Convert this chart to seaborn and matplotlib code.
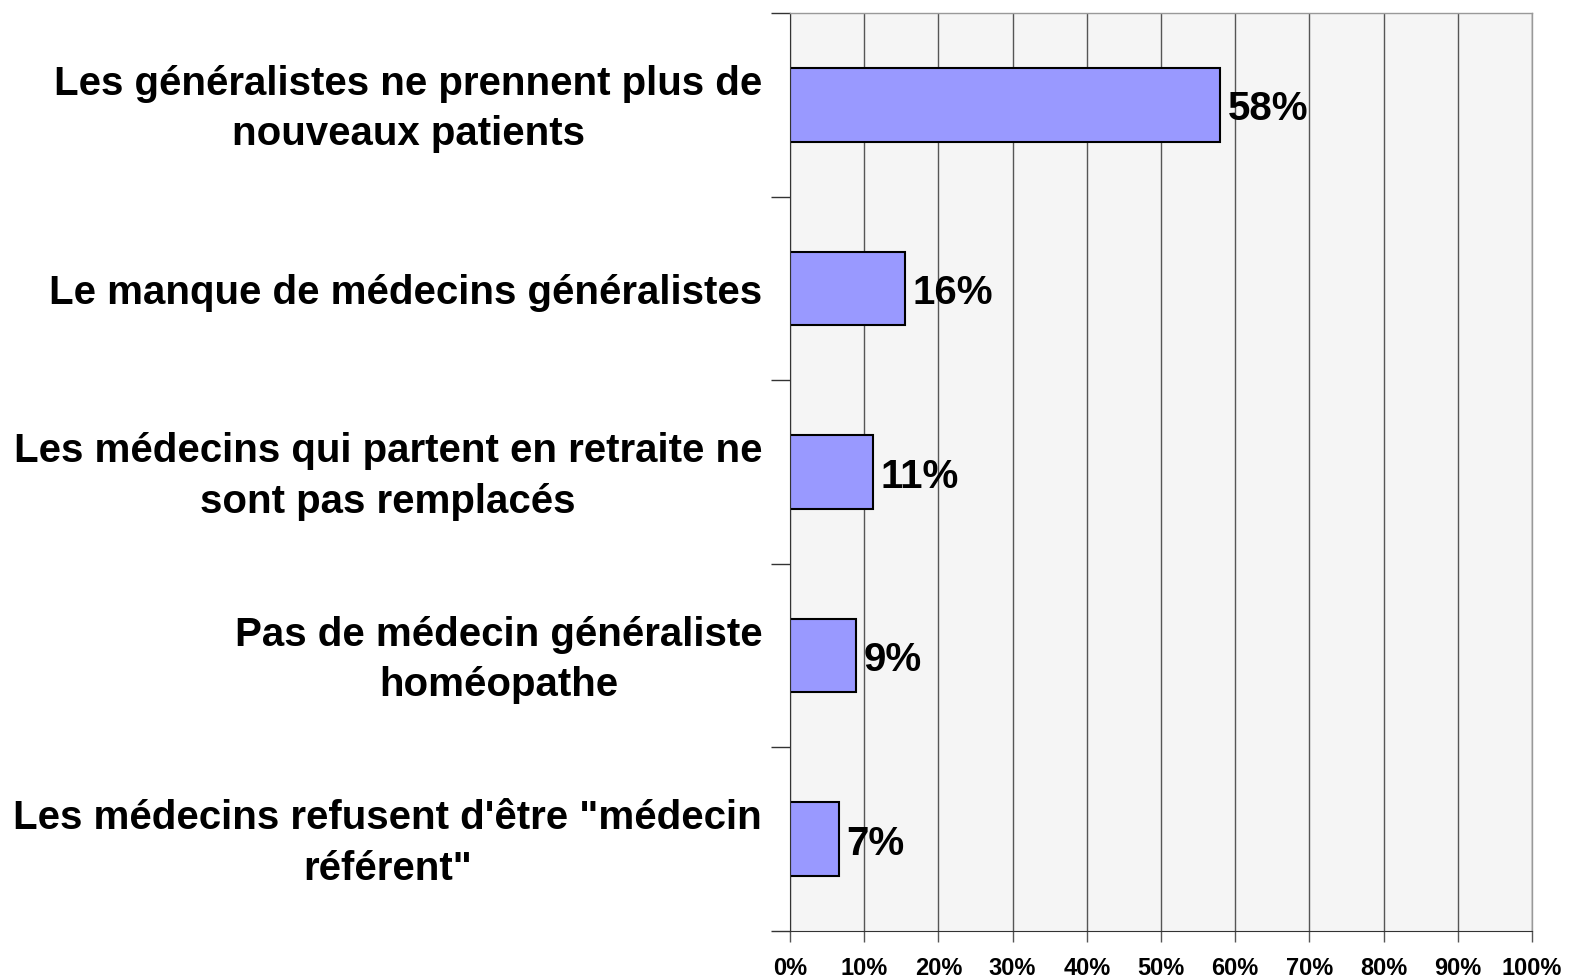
import pandas as pd
import matplotlib.pyplot as plt
import matplotlib.transforms as mtransforms
import seaborn as sns
from matplotlib.ticker import FixedLocator

categories = ['Les généralistes ne prennent plus de\nnouveaux patients',
              'Le manque de médecins généralistes',
              'Les médecins qui partent en retraite ne\nsont pas remplacés',
              'Pas de médecin généraliste\nhoméopathe',
              'Les médecins refusent d\'être "médecin\nréférent"']
values = [58.0, 15.5, 11.2, 8.9, 6.6]
labels = ['58%', '16%', '11%', '9%', '7%']
xticks = list(range(0, 101, 10))

df = pd.DataFrame({'cat': categories, 'val': values})

sns.set_style('white')
plt.rcParams['font.family'] = ['Liberation Sans', 'DejaVu Sans']
plt.rcParams['text.color'] = 'black'
plt.rcParams['xtick.color'] = 'black'
plt.rcParams['ytick.color'] = 'black'

fig, ax = plt.subplots(figsize=(15.84, 9.79), dpi=100)
fig.subplots_adjust(left=790/1584, right=1532/1584, top=1-14/979, bottom=1-932/979)

ax.set_facecolor('#f5f5f5')
sns.barplot(data=df, x='val', y='cat', orient='h', color='#9999ff',
            edgecolor='black', linewidth=1.5, width=0.4, saturation=1, ax=ax)

for i, v in enumerate(values):
    ax.text(v + 1.0, i + 0.02, labels[i], va='center', ha='left', fontsize=29, fontweight='bold')

ax.set_xlim(0, 100)
ax.set_ylim(4.5, -0.5)
ax.set_xticks(xticks)
ax.set_xticklabels([f'{t}%' for t in xticks], fontsize=17, fontweight='bold')
ax.xaxis.grid(True, color='#555555', linewidth=1)
ax.set_axisbelow(True)
ax.tick_params(axis='x', length=8, width=1, color='#555555', pad=10, bottom=True)

ax.tick_params(axis='y', which='major', length=0, pad=20, labelsize=29)
# les libellés sur deux lignes tombent un peu bas, on les remonte
shift = mtransforms.ScaledTranslation(0, 7/100, fig.dpi_scale_trans)
for lbl in ax.get_yticklabels():
    lbl.set_fontweight('bold')
    lbl.set_multialignment('center')
    lbl.set_linespacing(1.42)
    if '\n' in lbl.get_text():
        lbl.set_transform(lbl.get_transform() + shift)
ax.yaxis.set_minor_locator(FixedLocator([-0.5, 0.5, 1.5, 2.5, 3.5, 4.5]))
ax.tick_params(axis='y', which='minor', length=14, width=1, color='#333333', left=True)

ax.set_xlabel('')
ax.set_ylabel('')
for s in ['top', 'right']:
    ax.spines[s].set_color('#999999')
    ax.spines[s].set_linewidth(1)
ax.spines['left'].set_color('#333333')
ax.spines['bottom'].set_color('#333333')

fig.savefig('out.png', dpi=100)
